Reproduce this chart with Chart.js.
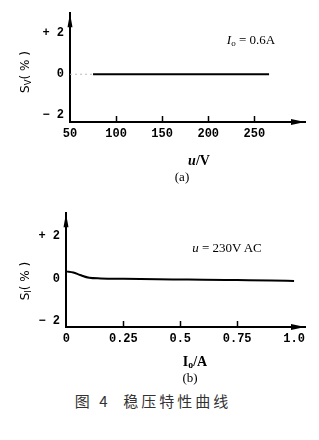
<!DOCTYPE html>
<html>
<head>
<meta charset="utf-8">
<script src="https://cdn.jsdelivr.net/npm/chart.js@4.4.1/dist/chart.umd.min.js"></script>
<style>
  html,body{margin:0;padding:0;background:#fff;}
  body{width:319px;height:440px;position:relative;overflow:hidden;}
  canvas{position:absolute;left:0;}
  .t{position:absolute;transform:translate(-50%,-50%);white-space:nowrap;color:#000;}
  .serif{font-family:"Liberation Serif","DejaVu Serif",serif;}
  .ytitle{font-family:"DejaVu Sans","Liberation Sans",sans-serif;font-size:12px;transform:translate(-50%,-50%) rotate(-90deg);}
  sub{font-size:70%;vertical-align:-2px;}
</style>
</head>
<body>
<canvas id="ca" width="319" height="190" style="top:0px;width:319px;height:190px"></canvas>
<canvas id="cb" width="319" height="150" style="top:200px;width:319px;height:150px"></canvas>

<div class="t ytitle" style="left:25px;top:72px">S<sub>V</sub>( % )</div>
<div class="t serif" style="left:251px;top:40px;font-size:13px"><i>I</i><sub>o</sub> = 0.6A</div>
<div class="t serif" style="left:199px;top:161px;font-size:14px;font-weight:bold"><i>u</i>/V</div>
<div class="t serif" style="left:182px;top:177px;font-size:13px">(a)</div>

<div class="t ytitle" style="left:25px;top:281px">S<sub>I</sub>( % )</div>
<div class="t serif" style="left:227px;top:248px;font-size:13px"><i>u</i> = 230V AC</div>
<div class="t serif" style="left:195px;top:362px;font-size:14px;font-weight:bold">I<sub>o</sub>/A</div>
<div class="t serif" style="left:190px;top:378px;font-size:13px">(b)</div>

<div class="t" style="left:153px;top:400px;font-family:'Noto Sans CJK SC',sans-serif;font-size:15px;color:#333;letter-spacing:3px">图 4&nbsp;&nbsp;稳压特性曲线</div>

<script>
// ---- Chart (a) data: S_V vs input voltage u ----
const aVoltage = [75, 100, 150, 200, 230, 266];
const aSV      = [0, 0, 0, 0, 0, 0];
const aDottedU = [50, 75];
const aDottedS = [0, 0];
const aXTicks  = [50, 100, 150, 200, 250];
const aYTicks  = [-2, 0, 2];
const aYLabels = ['− 2', '0', '+ 2'];

// ---- Chart (b) data: S_I vs output current I_o ----
const bCurrent = [0, 0.03, 0.06, 0.1, 0.15, 0.25, 0.4, 0.5, 0.6, 0.75, 0.9, 1.0];
const bSI      = [0.35, 0.3, 0.18, 0.05, 0.02, 0.0, -0.02, -0.03, -0.04, -0.06, -0.08, -0.1];
const bXTicks  = [0, 0.25, 0.5, 0.75, 1.0];
const bXLabels = ['0', '0.25', '0.5', '0.75', '1.0'];
const bYTicks  = [-2, 0, 2];
const bYLabels = ['− 2', '0', '+ 2'];

const tickFont = {family: "'Liberation Mono','DejaVu Sans Mono',monospace", size: 12, weight: 'bold'};

const axisDecor = {
  id: 'axisDecor',
  afterDraw(chart) {
    const ctx = chart.ctx;
    const a = chart.chartArea;
    const xs = chart.scales.x;
    ctx.save();
    ctx.strokeStyle = '#000';
    ctx.fillStyle = '#000';
    ctx.lineWidth = 1.5;
    xs.ticks.forEach((t, i) => {
      if (i === 0) return;
      const px = Math.round(xs.getPixelForValue(t.value)) + 0.5;
      if (px > a.right - 16) return;
      ctx.beginPath();
      ctx.moveTo(px, a.bottom);
      ctx.lineTo(px, a.bottom - 6);
      ctx.stroke();
    });
    ctx.beginPath();
    ctx.moveTo(a.right, a.bottom);
    ctx.lineTo(a.right - 14, a.bottom - 3);
    ctx.lineTo(a.right - 14, a.bottom + 3);
    ctx.closePath();
    ctx.fill();
    ctx.beginPath();
    ctx.moveTo(a.left, a.top);
    ctx.lineTo(a.left - 2.5, a.top + 14);
    ctx.lineTo(a.left + 2.5, a.top + 14);
    ctx.closePath();
    ctx.fill();
    ctx.restore();
  }
};

function makeChart(id, datasets, xMin, xMax, xTicks, xLabels, yMin, yMax, yTicks, yLabels, yAxisW, xAxisH) {
  return new Chart(document.getElementById(id), {
    type: 'line',
    data: {datasets},
    options: {
      responsive: false,
      animation: false,
      devicePixelRatio: 1,
      layout: {padding: {top: 8, right: 14, left: 0, bottom: 0}},
      plugins: {legend: {display: false}, tooltip: {enabled: false}},
      elements: {point: {radius: 0}},
      scales: {
        x: {
          type: 'linear', min: xMin, max: xMax,
          afterBuildTicks: s => { s.ticks = xTicks.map(v => ({value: v})); },
          afterFit: s => { s.height = xAxisH; },
          grid: {display: false, drawTicks: false},
          border: {display: true, color: '#000', width: 2},
          ticks: {
            color: '#000', font: tickFont, padding: 5, maxRotation: 0, autoSkip: false,
            callback: (v, i) => xLabels ? xLabels[i] : String(v)
          }
        },
        y: {
          type: 'linear', min: yMin, max: yMax,
          afterBuildTicks: s => { s.ticks = yTicks.map(v => ({value: v})); },
          afterFit: s => { s.width = yAxisW; },
          grid: {display: false, drawTicks: false},
          border: {display: true, color: '#000', width: 2},
          ticks: {
            color: '#000', font: tickFont, padding: 6, autoSkip: false,
            callback: (v, i) => yLabels[i]
          }
        }
      }
    },
    plugins: [axisDecor]
  });
}

makeChart('ca', [
  {data: aDottedU.map((u, i) => ({x: u, y: aDottedS[i]})), borderColor: '#bbb', borderWidth: 1, borderDash: [2, 3]},
  {data: aVoltage.map((u, i) => ({x: u, y: aSV[i]})), borderColor: '#000', borderWidth: 2}
], 50, 305, aXTicks, null, -2.33, 2.98, aYTicks, aYLabels, 70, 68);

makeChart('cb', [
  {data: bCurrent.map((c, i) => ({x: c, y: bSI[i]})), borderColor: '#000', borderWidth: 2, tension: 0.3, cubicInterpolationMode: 'monotone'}
], -0.002, 1.048, bXTicks, bXLabels, -2.27, 3.09, bYTicks, bYLabels, 66, 23);
</script>
</body>
</html>
